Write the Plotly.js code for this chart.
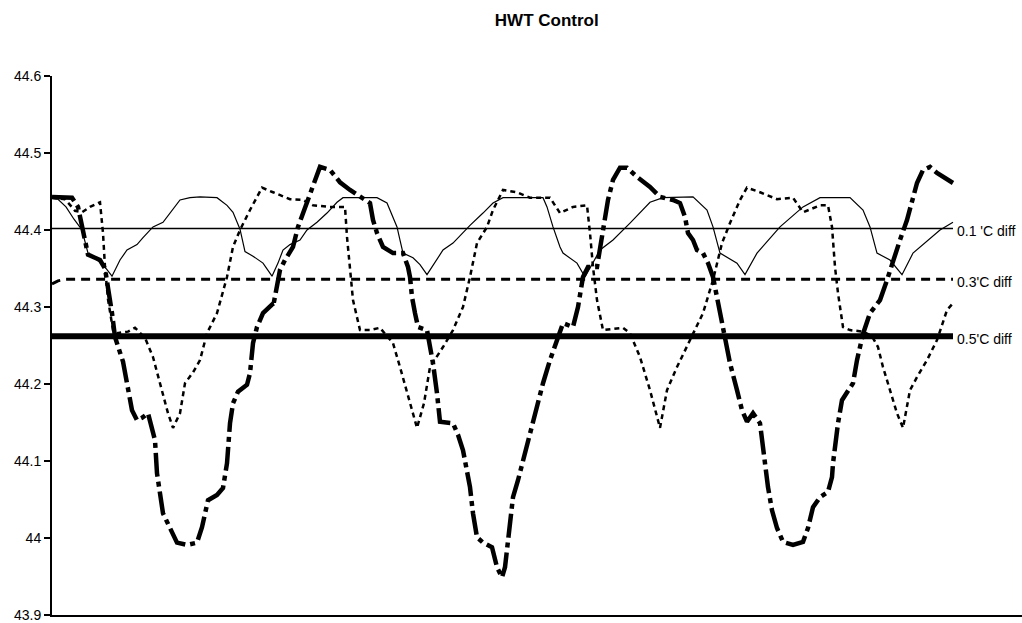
<!DOCTYPE html>
<html>
<head>
<meta charset="utf-8">
<script src="https://cdn.plot.ly/plotly-3.0.1.min.js"></script>
<style>html,body{margin:0;padding:0;background:#fff;}#chart{width:1022px;height:623px;}</style>
</head>
<body>
<div id="chart"></div>
<script>
// Sample index (time steps) and temperatures
const seriesA_x = [0,6,14,22,30,36,48,54,60,68,75,85,91,101,111,120,128,138,148,165,175,181,188,193,201,211,220,226,231,238,248,255,265,275,285,291,325,335,341,345,348,351,361,368,375,391,401,418,431,441,451,491,495,501,508,511,525,533,548,561,578,598,611,641,655,661,668,685,693,705,728,751,768,798,811,818,825,838,850,861,888,901];
const seriesA_y = [44.441,44.440,44.430,44.414,44.400,44.370,44.358,44.350,44.340,44.361,44.374,44.381,44.390,44.404,44.410,44.426,44.439,44.442,44.443,44.442,44.432,44.423,44.401,44.372,44.366,44.357,44.340,44.357,44.374,44.381,44.387,44.400,44.410,44.422,44.436,44.442,44.442,44.435,44.417,44.404,44.387,44.370,44.364,44.355,44.342,44.374,44.383,44.406,44.422,44.435,44.442,44.442,44.430,44.404,44.378,44.370,44.357,44.339,44.374,44.387,44.409,44.436,44.442,44.443,44.426,44.404,44.370,44.357,44.342,44.370,44.404,44.430,44.442,44.442,44.426,44.404,44.370,44.361,44.342,44.370,44.400,44.410];

const seriesB_x = [0,13,23,30,38,48,51,53,56,61,65,76,83,93,101,111,116,121,128,133,141,148,155,165,175,181,188,198,210,221,238,251,261,278,293,295,298,301,308,318,328,341,348,355,365,372,378,391,401,411,418,425,435,441,451,465,478,498,508,521,535,538,541,545,551,571,578,588,598,608,615,625,638,651,661,670,678,688,695,708,725,741,751,768,776,780,783,786,791,798,811,820,826,831,838,845,851,858,865,875,885,895,901];
const seriesB_y = [44.442,44.440,44.425,44.423,44.430,44.436,44.396,44.352,44.310,44.270,44.266,44.268,44.273,44.260,44.235,44.188,44.162,44.143,44.162,44.201,44.215,44.231,44.266,44.292,44.339,44.378,44.400,44.426,44.455,44.449,44.440,44.439,44.432,44.430,44.430,44.391,44.352,44.309,44.270,44.270,44.273,44.253,44.222,44.188,44.143,44.175,44.222,44.248,44.270,44.300,44.339,44.383,44.404,44.426,44.452,44.449,44.442,44.442,44.422,44.430,44.432,44.396,44.352,44.309,44.270,44.273,44.266,44.235,44.192,44.143,44.192,44.222,44.257,44.292,44.335,44.383,44.409,44.439,44.455,44.449,44.440,44.442,44.423,44.432,44.432,44.404,44.352,44.318,44.274,44.270,44.268,44.262,44.248,44.222,44.192,44.162,44.143,44.192,44.209,44.231,44.257,44.296,44.305];

const seriesC_x = [0,20,26,30,33,36,43,48,53,55,58,60,63,71,75,80,85,90,96,100,103,105,108,111,118,125,135,145,150,156,165,171,175,176,178,181,186,195,198,201,205,211,220,221,228,233,241,246,251,256,261,268,278,288,298,308,318,321,325,331,341,351,356,358,360,363,366,375,378,381,385,388,401,406,411,415,418,421,425,431,440,445,450,453,455,458,461,466,471,476,481,486,491,498,505,511,521,526,531,536,545,548,551,556,561,568,575,585,598,608,621,628,633,636,641,645,651,656,661,665,668,673,678,685,690,695,701,708,710,713,716,720,725,731,741,751,756,761,768,776,780,781,783,786,790,795,801,805,811,818,828,835,841,848,855,860,865,871,878,885,901];
const seriesC_y = [44.443,44.442,44.430,44.404,44.383,44.368,44.364,44.361,44.350,44.335,44.305,44.292,44.261,44.229,44.201,44.166,44.153,44.156,44.162,44.144,44.127,44.084,44.058,44.032,44.013,43.994,43.991,43.994,44.014,44.049,44.056,44.065,44.097,44.118,44.149,44.175,44.190,44.199,44.214,44.253,44.274,44.292,44.303,44.300,44.348,44.361,44.378,44.404,44.422,44.439,44.461,44.482,44.478,44.462,44.452,44.443,44.435,44.413,44.396,44.378,44.370,44.370,44.352,44.339,44.313,44.292,44.274,44.270,44.248,44.227,44.188,44.151,44.149,44.134,44.114,44.088,44.066,44.032,44.001,43.994,43.988,43.962,43.949,43.962,43.984,44.014,44.053,44.075,44.101,44.127,44.153,44.179,44.201,44.231,44.257,44.279,44.274,44.300,44.339,44.352,44.352,44.374,44.404,44.439,44.465,44.481,44.481,44.469,44.456,44.443,44.439,44.435,44.417,44.396,44.387,44.374,44.370,44.357,44.339,44.313,44.287,44.257,44.227,44.192,44.166,44.151,44.162,44.149,44.127,44.088,44.066,44.036,44.013,43.995,43.991,43.995,44.013,44.040,44.053,44.060,44.079,44.097,44.118,44.149,44.179,44.190,44.201,44.231,44.265,44.292,44.309,44.335,44.361,44.387,44.413,44.439,44.461,44.478,44.482,44.474,44.461];

// Reference lines
const ref01_x = [0,901];
const ref01_y = [44.402,44.402];
const ref03_x = [0,6,14,30,901];
const ref03_y = [44.330,44.334,44.336,44.336,44.336];
const ref05_x = [0,901];
const ref05_y = [44.262,44.262];
const refLabels = ["0.1 'C diff","0.3'C diff","0.5'C diff"];
const refLabelY = [44.402,44.336,44.262];

const yTicks = [43.9,44.0,44.1,44.2,44.3,44.4,44.5,44.6];
const yTickText = ["43.9","44","44.1","44.2","44.3","44.4","44.5","44.6"];

const FONT = 'Liberation Sans, Arial, sans-serif';

const traces = [
  {x: ref05_x, y: ref05_y, mode:'lines', line:{color:'#000', width:6}, hoverinfo:'skip'},
  {x: ref03_x, y: ref03_y, mode:'lines', line:{color:'#000', width:3, dash:'9px,6px'}, hoverinfo:'skip'},
  {x: ref01_x, y: ref01_y, mode:'lines', line:{color:'#000', width:1.5}, hoverinfo:'skip'},
  {x: seriesB_x, y: seriesB_y, mode:'lines', line:{color:'#000', width:2.5, dash:'5px,4px'}},
  {x: seriesC_x, y: seriesC_y, mode:'lines', line:{color:'#000', width:4.5, dash:'24px,5px,5px,5px'}},
  {x: seriesA_x, y: seriesA_y, mode:'lines', line:{color:'#000', width:1.2}}
];

const annotations = refLabels.map((t,i)=>({
  x: 903, y: refLabelY[i], xref:'x', yref:'y', text:t, showarrow:false,
  xanchor:'left', yanchor:'middle', yshift:-3,
  font:{family:FONT, size:14, color:'#000'}
}));

const layout = {
  width:1022, height:623,
  margin:{l:52, r:0, t:76, b:8, pad:0},
  paper_bgcolor:'#fff', plot_bgcolor:'#fff',
  showlegend:false,
  title:{text:'<b>HWT Control</b>', font:{family:FONT, size:17, color:'#000'},
         xref:'container', yref:'container', x:0.535, y:0.968, xanchor:'center', yanchor:'middle'},
  xaxis:{range:[0,970], showgrid:false, zeroline:false, showticklabels:false, ticks:'',
         showline:true, linecolor:'#000', linewidth:2, fixedrange:true},
  yaxis:{range:[43.9,44.6], tickvals:yTicks, ticktext:yTickText, showgrid:false, zeroline:false,
         ticks:'outside', ticklen:6, tickwidth:1.5, tickcolor:'#000',
         showline:true, linecolor:'#000', linewidth:2,
         tickfont:{family:FONT, size:14, color:'#000'}, fixedrange:true},
  annotations: annotations
};

Plotly.newPlot('chart', traces, layout, {displayModeBar:false, staticPlot:true});
</script>
</body>
</html>
